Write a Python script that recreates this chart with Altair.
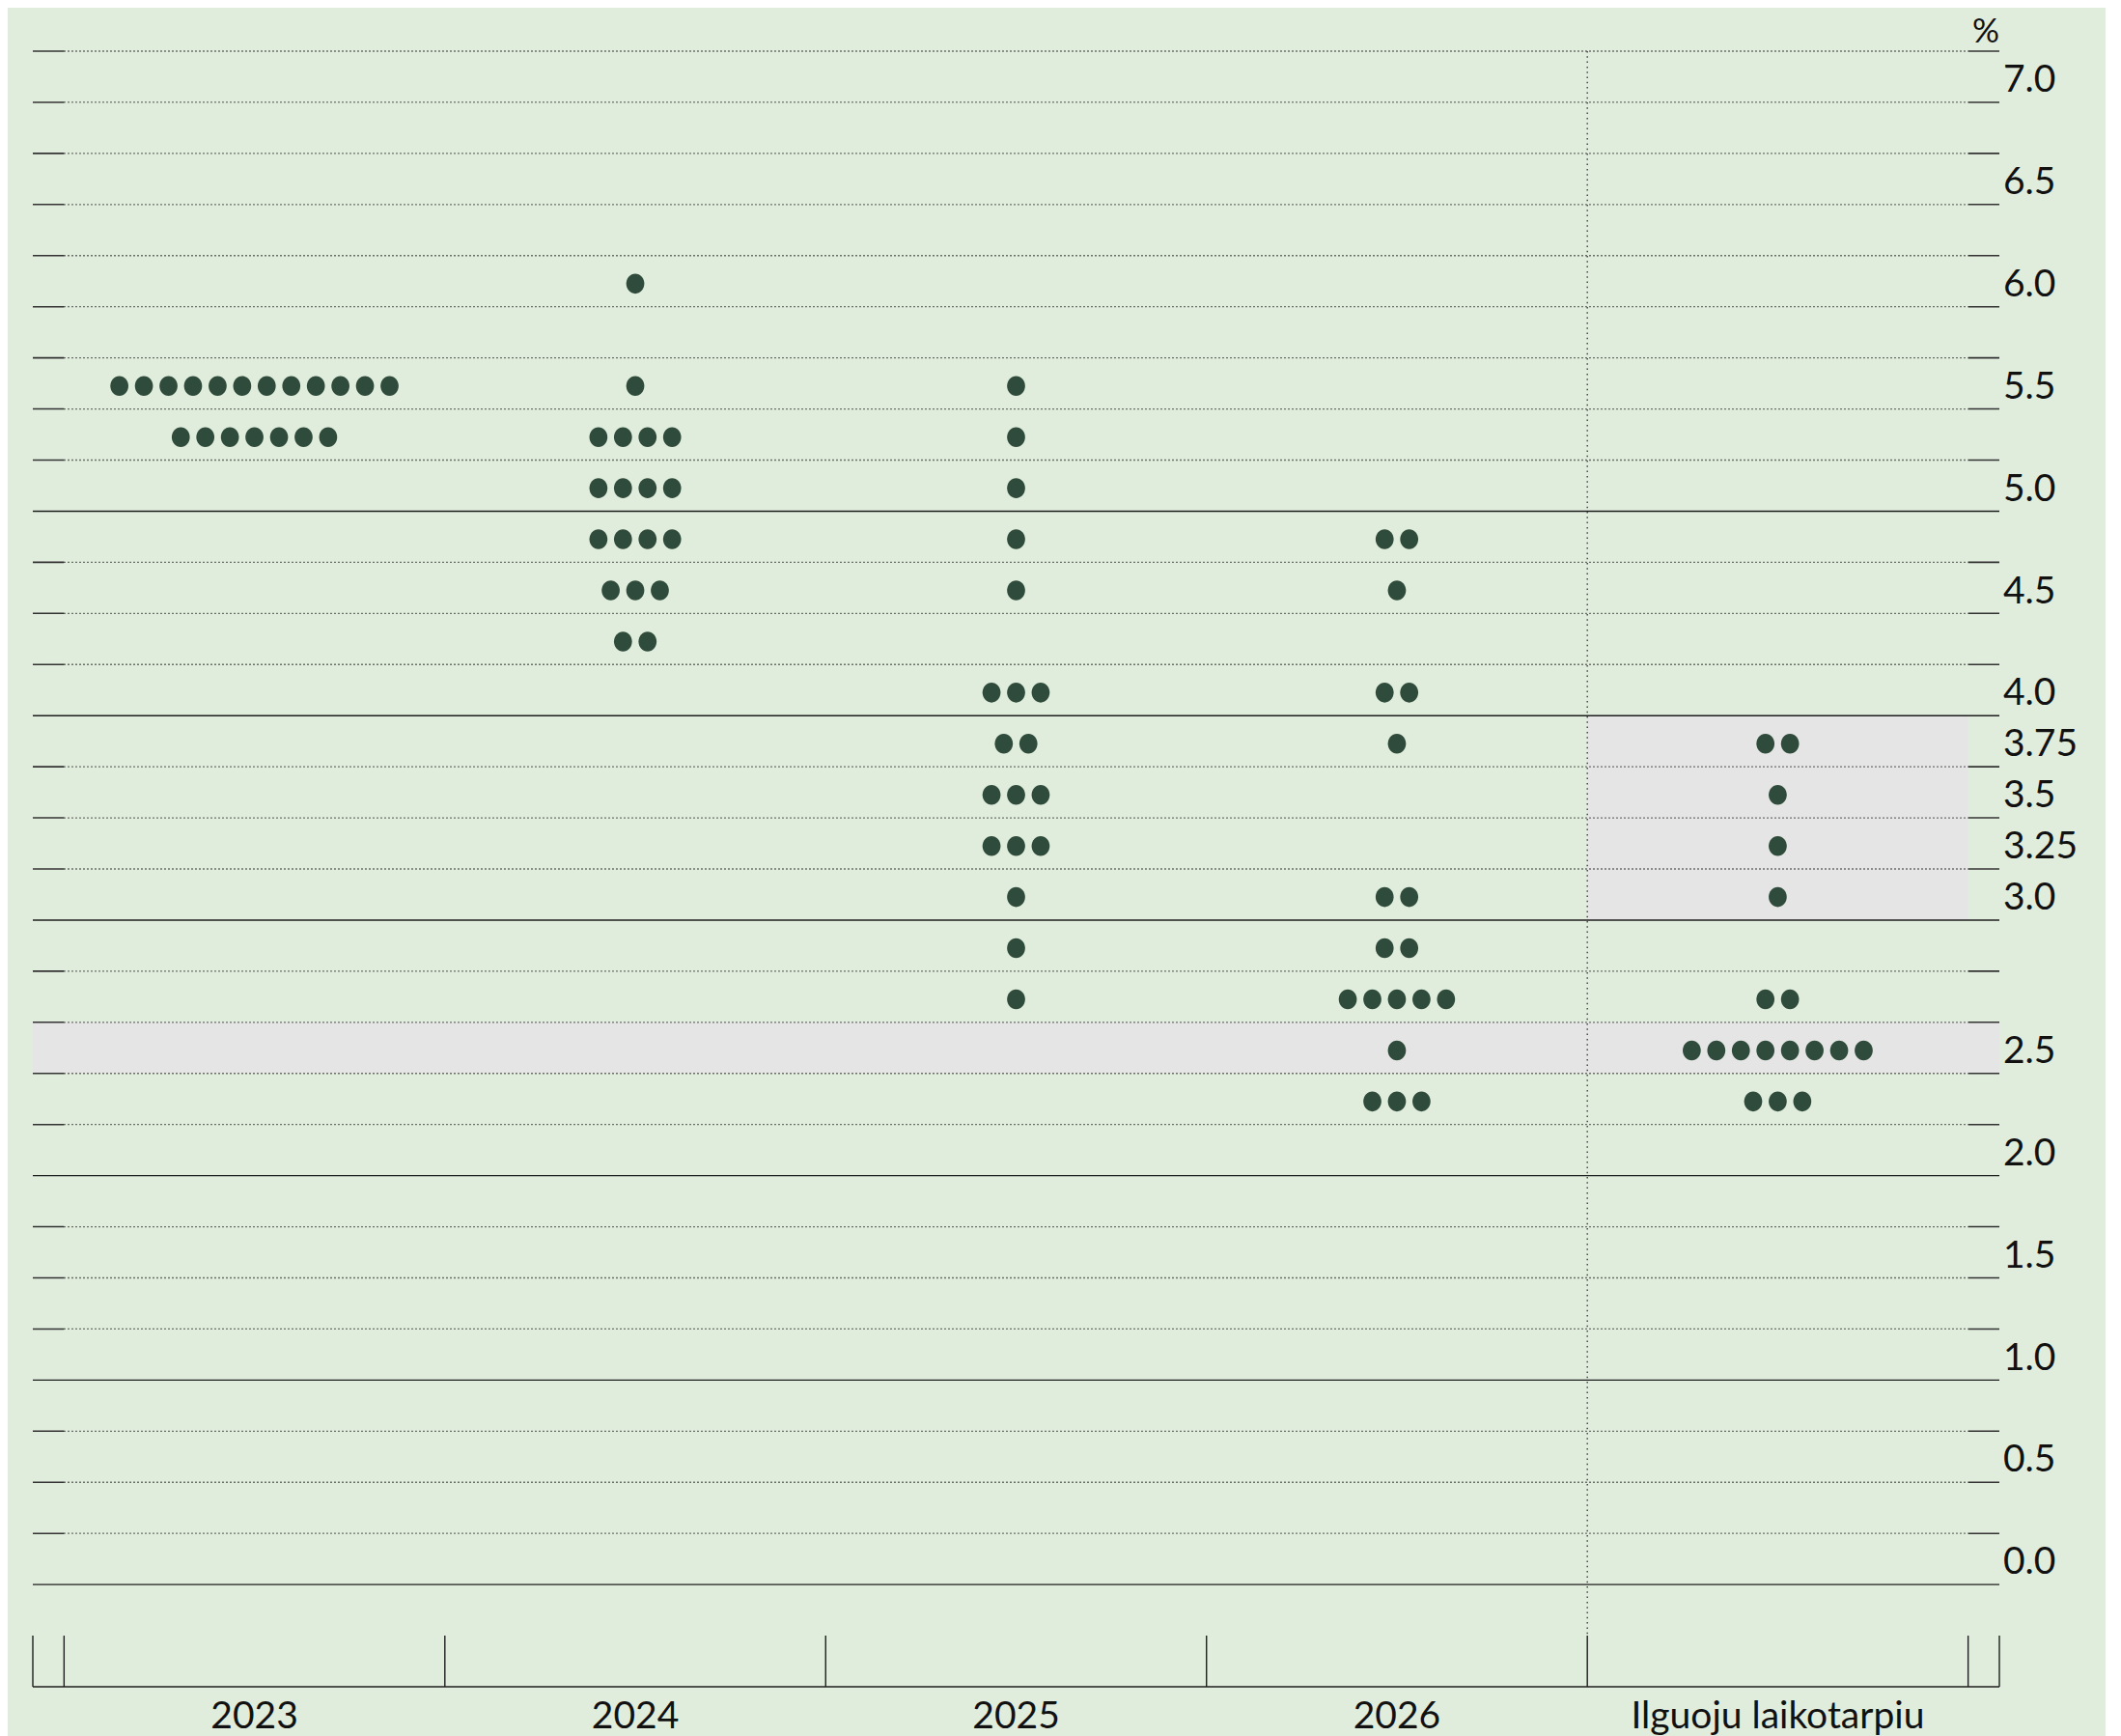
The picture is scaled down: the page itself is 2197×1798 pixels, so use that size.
import altair as alt
import pandas as pd

# ---------------- data ----------------
columns = ["2023", "2024", "2025", "2026", "Ilguoju laikotarpiu"]

# one band per row of the chart, top (index 0) to bottom
band_labels = ["7.0", "", "6.5", "", "6.0", "", "5.5", "", "5.0", "", "4.5", "",
               "4.0", "3.75", "3.5", "3.25", "3.0", "", "", "2.5", "", "2.0", "",
               "1.5", "", "1.0", "", "0.5", "", "0.0"]

# dot rows per column: band index and number of participants
bands_2023 = [6, 7]
counts_2023 = [12, 7]
bands_2024 = [4, 6, 7, 8, 9, 10, 11]
counts_2024 = [1, 1, 4, 4, 4, 3, 2]
bands_2025 = [6, 7, 8, 9, 10, 12, 13, 14, 15, 16, 17, 18]
counts_2025 = [1, 1, 1, 1, 1, 3, 2, 3, 3, 1, 1, 1]
bands_2026 = [9, 10, 12, 13, 16, 17, 18, 19, 20]
counts_2026 = [2, 1, 2, 1, 2, 2, 5, 1, 3]
bands_lr = [13, 14, 15, 16, 18, 19, 20]
counts_lr = [2, 1, 1, 1, 2, 8, 3]

solid_boundaries = [9, 13, 17, 22, 26, 30]   # band boundaries drawn as solid lines
shade_long_run = [13, 17]                    # shaded bands in the long-run column
shade_all = [19, 20]                         # shaded band across the whole chart

# ---------------- layout constants ----------------
N_BANDS = len(band_labels)
Y_MAX = N_BANDS + 2          # room for the x-axis ticks below the grid
EXT = 0.082                  # tick extension outside the columns (column units)
X_MIN, X_MAX = -EXT, len(columns) + EXT
DOT_STEP = 0.0645
W, H = 2037, 1694

BG = "#e1eddc"
DOT = "#2f4b3b"
SHADE = "#e5e5e5"
LINE = "#1e1e1e"
FONT = "Lato"
FS = 39

xs = alt.Scale(domain=[X_MIN, X_MAX], nice=False, zero=False)
ys = alt.Scale(domain=[Y_MAX, 0], nice=False, zero=False)

# ---------------- tables ----------------
dot_rows = []
for ci, (bl, cl) in enumerate([(bands_2023, counts_2023), (bands_2024, counts_2024),
                               (bands_2025, counts_2025), (bands_2026, counts_2026),
                               (bands_lr, counts_lr)]):
    for b, n in zip(bl, cl):
        for k in range(n):
            dot_rows.append({"col": ci, "band": b, "n": n, "k": k})
dots_df = pd.DataFrame(dot_rows)

shade_df = pd.DataFrame([
    {"x": len(columns) - 1, "x2": len(columns), "y": shade_long_run[0], "y2": shade_long_run[1]},
    {"x": X_MIN, "x2": X_MAX, "y": shade_all[0], "y2": shade_all[1]},
])

boundaries = list(range(N_BANDS + 1))
dotted_df = pd.DataFrame([{"x": 0, "x2": len(columns), "y": b}
                          for b in boundaries if b not in solid_boundaries])
ticks_df = pd.DataFrame([{"x": X_MIN, "x2": 0, "y": b} for b in boundaries if b not in solid_boundaries] +
                        [{"x": len(columns), "x2": X_MAX, "y": b} for b in boundaries if b not in solid_boundaries])
solid_df = pd.DataFrame([{"x": X_MIN, "x2": X_MAX, "y": b} for b in solid_boundaries] +
                        [{"x": X_MIN, "x2": X_MAX, "y": Y_MAX}])
vline_df = pd.DataFrame([{"x": len(columns) - 1, "y": 0, "y2": N_BANDS + 1}])
xticks_df = pd.DataFrame([{"x": v, "y": N_BANDS + 1, "y2": Y_MAX}
                          for v in [X_MIN] + list(range(len(columns) + 1)) + [X_MAX]])
ylab_df = pd.DataFrame([{"x": X_MAX, "y": i + 0.57, "t": t} for i, t in enumerate(band_labels) if t])
xlab_df = pd.DataFrame([{"x": i + 0.5, "y": Y_MAX + 0.58, "t": c} for i, c in enumerate(columns)])
pct_df = pd.DataFrame([{"x": X_MAX, "y": -0.37, "t": "%"}])

X = lambda f="x": alt.X(f"{f}:Q", scale=xs, axis=None)
Y = lambda f="y": alt.Y(f"{f}:Q", scale=ys, axis=None)

shade = alt.Chart(shade_df).mark_rect(color=SHADE).encode(
    x=X(), x2="x2:Q", y=Y(), y2="y2:Q")
dotted = alt.Chart(dotted_df).mark_rule(color="#2e2e2e", strokeWidth=1.3, strokeDash=[1.3, 2.7]).encode(
    x=X(), x2="x2:Q", y=Y())
ticks = alt.Chart(ticks_df).mark_rule(color="#333333", strokeWidth=1.6).encode(
    x=X(), x2="x2:Q", y=Y())
solid = alt.Chart(solid_df).mark_rule(color=LINE, strokeWidth=1.4).encode(
    x=X(), x2="x2:Q", y=Y())
vline = alt.Chart(vline_df).mark_rule(color="#333333", strokeWidth=1.3, strokeDash=[1.5, 3.8]).encode(
    x=X(), y=Y(), y2="y2:Q")
xticks = alt.Chart(xticks_df).mark_rule(color=LINE, strokeWidth=1.4).encode(
    x=X(), y=Y(), y2="y2:Q")

ellipse = ("M0,-1.1 C0.5523,-1.1 1,-0.6075 1,0 C1,0.6075 0.5523,1.1 0,1.1 "
           "C-0.5523,1.1 -1,0.6075 -1,0 C-1,-0.6075 -0.5523,-1.1 0,-1.1 Z")
dots = alt.Chart(dots_df).transform_calculate(
    px=f"datum.col + 0.5 + (datum.k - (datum.n - 1) / 2) * {DOT_STEP}",
    py="datum.band + 0.55",
).mark_point(shape=ellipse, filled=True, opacity=1, color=DOT, size=350, strokeWidth=0).encode(
    x=X("px"), y=Y("py"))

ylabs = alt.Chart(ylab_df).mark_text(align="left", baseline="middle", dx=4, font=FONT,
                                     fontSize=FS, color="#111111").encode(
    x=X(), y=Y(), text="t:N")
xlabs = alt.Chart(xlab_df).mark_text(align="center", baseline="middle", font=FONT,
                                     fontSize=FS, color="#111111").encode(
    x=X(), y=Y(), text="t:N")
pct = alt.Chart(pct_df).mark_text(align="right", baseline="middle", font=FONT,
                                  fontSize=FS - 4, color="#111111").encode(
    x=X(), y=Y(), text="t:N")

chart = alt.layer(shade, dotted, ticks, solid, vline, xticks, dots, ylabs, xlabs, pct).properties(
    width=W, height=H,
    autosize=alt.AutoSizeParams(type="none"),
    padding={"left": 26, "top": 45, "right": 110, "bottom": 52},
    background=BG,
).configure_view(stroke=None)

chart.save("out.html", embed_options={"renderer": "svg", "actions": False})
